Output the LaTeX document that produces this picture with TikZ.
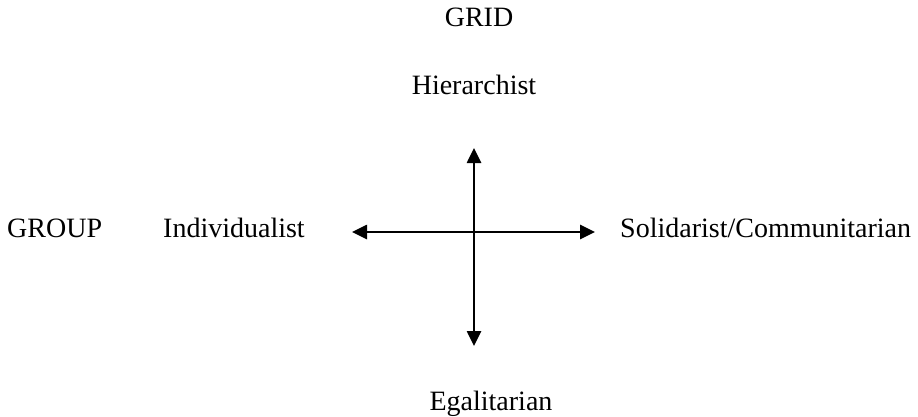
\documentclass[tikz,border=0pt]{standalone}
\usepackage{fontspec}
\setmainfont{Liberation Serif}
\usetikzlibrary{arrows.meta}
\begin{document}
\begin{tikzpicture}[x=1pt,y=-1pt,
  lbl/.style={inner sep=0pt,font=\fontsize{28}{32}\selectfont},
  axis/.style={line width=2.6pt,{Triangle[length=15pt,width=14pt]}-{Triangle[length=15pt,width=14pt]}}]
\useasboundingbox (0,0) rectangle (918,417);
\node[lbl,anchor=base] (grid) at (479,27) {GRID};
\node[lbl,anchor=base] (hier) at (474,95) {Hierarchist};
\node[lbl,anchor=base west] (group) at (7,237) {GROUP};
\node[lbl,anchor=base west] (indiv) at (163,237) {Individualist};
\node[lbl,anchor=base west] (solid) at (620,237) {Solidarist/Communitarian};
\node[lbl,anchor=base] (egal) at (491,410) {Egalitarian};
\coordinate (top) at (474,148);
\coordinate (bot) at (474,346);
\coordinate (left) at (352,232);
\coordinate (right) at (595,232);
\draw[axis] (bot) -- (top);
\draw[axis] (left) -- (right);
\end{tikzpicture}
\end{document}
